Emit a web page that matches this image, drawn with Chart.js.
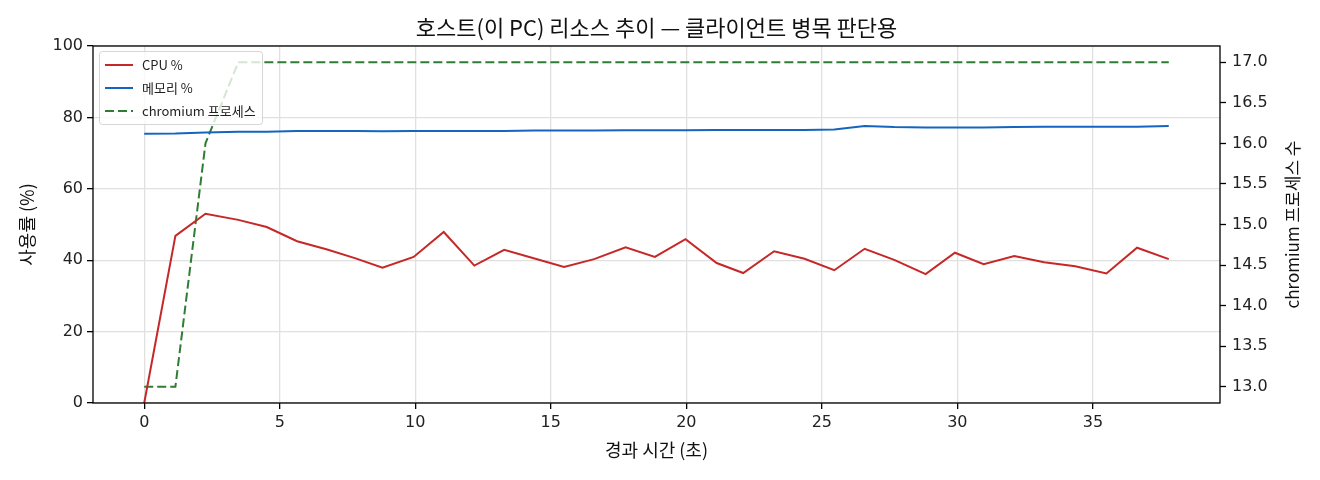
<!DOCTYPE html>
<html>
<head>
<meta charset="utf-8">
<script src="https://cdn.jsdelivr.net/npm/chart.js@4/dist/chart.umd.min.js"></script>
<style>
  body { margin: 0; background: #fff; }
  canvas { display: block; }
</style>
</head>
<body>
<canvas id="hostChart" width="1320" height="480"></canvas>
<script>
// elapsed seconds for each sample
const times = [0, 1.15, 2.26, 3.47, 4.52, 5.64, 6.75, 7.8, 8.79, 9.94, 11.05, 12.18, 13.28, 14.4, 15.49,
  16.6, 17.76, 18.84, 19.97, 21.12, 22.1, 23.24, 24.36, 25.46, 26.58, 27.67, 28.83, 29.91, 30.97,
  32.1, 33.2, 34.35, 35.5, 36.63, 37.8];
const cpuPct = [0, 46.8, 53.0, 51.3, 49.3, 45.3, 43.0, 40.5, 37.9, 40.9, 47.9, 38.5, 42.9, 40.5, 38.1,
  40.3, 43.6, 40.9, 45.9, 39.2, 36.4, 42.5, 40.4, 37.2, 43.2, 40.1, 36.1, 42.1, 38.9,
  41.2, 39.4, 38.3, 36.3, 43.5, 40.3];
const memPct = [75.4, 75.5, 75.8, 76.0, 76.0, 76.2, 76.2, 76.2, 76.1, 76.2, 76.2, 76.2, 76.2, 76.3, 76.3,
  76.3, 76.4, 76.4, 76.4, 76.5, 76.5, 76.5, 76.5, 76.6, 77.6, 77.3, 77.2, 77.2, 77.2,
  77.3, 77.4, 77.4, 77.4, 77.4, 77.6];
const procCount = [13, 13, 16, 17, 17, 17, 17, 17, 17, 17, 17, 17, 17, 17, 17,
  17, 17, 17, 17, 17, 17, 17, 17, 17, 17, 17, 17, 17, 17,
  17, 17, 17, 17, 17, 17];
const xTicks = [0, 5, 10, 15, 20, 25, 30, 35];
const yTicks = [0, 20, 40, 60, 80, 100];
const y2Ticks = [13, 13.5, 14, 14.5, 15, 15.5, 16, 16.5, 17];

const FONT = '"Noto Sans CJK KR", "Noto Sans", sans-serif';
const NUM_FONT = '"DejaVu Sans", sans-serif';
const RED = '#c62828', BLUE = '#1565c0', GREEN = '#2e7d32';
const GRID = '#e0e0e0';

function pts(vals) {
  return vals.map((v, i) => ({ x: times[i], y: v }));
}

// title, axis labels, frame and the in-plot legend box
const decor = {
  id: 'decor',
  afterDatasetsDraw(chart) {
    const ctx = chart.ctx, a = chart.chartArea;
    ctx.save();
    // legend (drawn over the lines, semi-transparent like matplotlib)
    const lx = 99.5, ly = 51.5, lw = 163, lh = 73;
    ctx.beginPath();
    ctx.roundRect(lx, ly, lw, lh, 3);
    ctx.fillStyle = 'rgba(255,255,255,0.8)';
    ctx.fill();
    ctx.strokeStyle = 'rgba(204,204,204,0.8)';
    ctx.lineWidth = 1;
    ctx.stroke();
    const items = [
      { label: 'CPU %', color: RED, dash: [] },
      { label: '메모리 %', color: BLUE, dash: [] },
      { label: 'chromium 프로세스', color: GREEN, dash: [9, 4] }
    ];
    ctx.font = '13px ' + FONT;
    ctx.textBaseline = 'middle';
    items.forEach((it, i) => {
      const y = 65 + i * 23;
      ctx.beginPath();
      ctx.setLineDash(it.dash);
      ctx.strokeStyle = it.color;
      ctx.lineWidth = 2;
      ctx.moveTo(105, y);
      ctx.lineTo(133, y);
      ctx.stroke();
      ctx.setLineDash([]);
      ctx.fillStyle = '#222';
      ctx.textAlign = 'left';
      ctx.fillText(it.label, 142, y);
    });
    // frame
    ctx.strokeStyle = '#000';
    ctx.lineWidth = 1.3;
    ctx.strokeRect(a.left, a.top, a.right - a.left, a.bottom - a.top);
    // title
    ctx.fillStyle = '#111';
    ctx.textAlign = 'center';
    ctx.font = '22px ' + FONT;
    ctx.fillText('호스트(이 PC) 리소스 추이 — 클라이언트 병목 판단용', (a.left + a.right) / 2, 28);
    // axis titles
    ctx.font = '18px ' + FONT;
    ctx.fillText('경과 시간 (초)', (a.left + a.right) / 2, 450);
    ctx.save();
    ctx.translate(27, (a.top + a.bottom) / 2);
    ctx.rotate(-Math.PI / 2);
    ctx.fillText('사용률 (%)', 0, 0);
    ctx.restore();
    ctx.font = '17px ' + FONT;
    ctx.save();
    ctx.translate(1293, (a.top + a.bottom) / 2);
    ctx.rotate(-Math.PI / 2);
    ctx.fillText('chromium 프로세스 수', 0, 0);
    ctx.restore();
    ctx.restore();
  }
};

const tickFont = { family: NUM_FONT, size: 16 };

new Chart(document.getElementById('hostChart'), {
  type: 'line',
  data: {
    datasets: [
      { label: 'CPU %', data: pts(cpuPct), borderColor: RED, borderWidth: 2, yAxisID: 'y' },
      { label: '메모리 %', data: pts(memPct), borderColor: BLUE, borderWidth: 2, yAxisID: 'y' },
      { label: 'chromium 프로세스', data: pts(procCount), borderColor: GREEN, borderWidth: 2,
        borderDash: [9, 4], yAxisID: 'y2' }
    ]
  },
  options: {
    responsive: false,
    devicePixelRatio: 1,
    animation: false,
    layout: { padding: { top: 46, left: 0, right: 0, bottom: 0 } },
    elements: { point: { radius: 0 }, line: { tension: 0, fill: false } },
    plugins: { legend: { display: false }, title: { display: false }, tooltip: { enabled: false } },
    scales: {
      x: {
        type: 'linear', min: -1.89, max: 39.69,
        afterBuildTicks: s => { s.ticks = xTicks.map(v => ({ value: v })); },
        afterFit: s => { s.height = 77; },
        grid: { color: GRID, lineWidth: 1.3, tickColor: '#000', tickLength: 6, tickWidth: 1.3 },
        border: { display: false },
        ticks: { font: tickFont, color: '#222', padding: 4, maxRotation: 0 }
      },
      y: {
        position: 'left', min: 0, max: 100,
        afterBuildTicks: s => { s.ticks = yTicks.map(v => ({ value: v })); },
        afterFit: s => { s.width = 93; },
        grid: { color: GRID, lineWidth: 1.3, tickColor: '#000', tickLength: 6, tickWidth: 1.3 },
        border: { display: false },
        ticks: { font: tickFont, color: '#222', padding: 4 }
      },
      y2: {
        position: 'right', min: 12.8, max: 17.2,
        afterBuildTicks: s => { s.ticks = y2Ticks.map(v => ({ value: v })); },
        afterFit: s => { s.width = 100; },
        grid: { drawOnChartArea: false, tickColor: '#000', tickLength: 6, tickWidth: 1.3 },
        border: { display: false },
        ticks: { font: tickFont, color: '#222', padding: 6, callback: v => v.toFixed(1) }
      }
    }
  },
  plugins: [decor]
});
</script>
</body>
</html>
